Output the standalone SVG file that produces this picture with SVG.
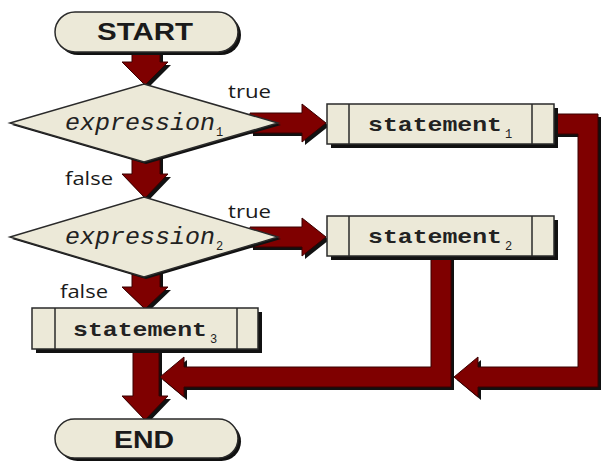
<svg xmlns="http://www.w3.org/2000/svg" width="601" height="463" viewBox="0 0 601 463">
  <defs>
    <style>
      .node { fill: #ece9d8; stroke: #2a2a2a; stroke-width: 1.5; }
      .shadow { fill: #111; stroke: none; }
      .bar { fill: #7f0000; stroke: #3a0000; stroke-width: 1; stroke-linejoin: miter; }
      .term { font-family: "Liberation Sans", Arial, sans-serif; font-weight: bold; font-size: 24px; fill: #1a1a1a; }
      .expr { font-family: "Liberation Mono", "Courier New", monospace; font-style: italic; font-size: 23px; fill: #222; }
      .stmt { font-family: "Liberation Mono", "Courier New", monospace; font-weight: bold; font-size: 21px; fill: #222; }
      .sub { font-family: "Liberation Mono", "Courier New", monospace; font-size: 12px; fill: #222; }
      .lbl { font-family: "Open Sans", "Liberation Sans", sans-serif; font-size: 19px; fill: #1a1a1a; }
      .div { stroke: #2a2a2a; stroke-width: 1.5; }
    </style>
  </defs>

  <rect width="601" height="463" fill="#ffffff"/>

  <!-- connectors: thick maroon block arrows with a dark drop shadow -->
  <g id="connectors">
    <g transform="translate(3,3)" class="shadow">
      <polygon points="132,50 160,50 160,62 168,62 145,85 122,62 132,62"/>
      <polygon points="250,113 302,113 302,104 326,123 302,142 302,133 250,133"/>
      <polygon points="132,150 160,150 160,174 168,174 145,198 122,174 132,174"/>
      <polygon points="250,227 302,227 302,218 326,237 302,256 302,247 250,247"/>
      <polygon points="132,265 160,265 160,287 168,287 145,309 122,287 132,287"/>
      <polygon points="133,345 159,345 159,396 168,396 145,420 122,396 133,396"/>
      <polygon points="550,114 598,114 598,387 478,387 478,397 454,377 478,357 478,367 578,367 578,134 550,134"/>
      <polygon points="431,252 451,252 451,387 184,387 184,397 160,377 184,357 184,367 431,367"/>
    </g>
    <!-- START -> expression1 -->
    <polygon class="bar" points="132,50 160,50 160,62 168,62 145,85 122,62 132,62"/>
    <!-- expression1 true -> statement1 -->
    <polygon class="bar" points="250,113 302,113 302,104 326,123 302,142 302,133 250,133"/>
    <!-- expression1 false -> expression2 -->
    <polygon class="bar" points="132,150 160,150 160,174 168,174 145,198 122,174 132,174"/>
    <!-- expression2 true -> statement2 -->
    <polygon class="bar" points="250,227 302,227 302,218 326,237 302,256 302,247 250,247"/>
    <!-- expression2 false -> statement3 -->
    <polygon class="bar" points="132,265 160,265 160,287 168,287 145,309 122,287 132,287"/>
    <!-- statement1 -> join -->
    <polygon class="bar" points="550,114 598,114 598,387 478,387 478,397 454,377 478,357 478,367 578,367 578,134 550,134"/>
    <!-- statement2 -> join -->
    <polygon class="bar" points="431,252 451,252 451,387 184,387 184,397 160,377 184,357 184,367 431,367"/>
    <!-- statement3 -> END -->
    <polygon class="bar" points="133,345 159,345 159,396 168,396 145,420 122,396 133,396"/>
  </g>

  <!-- branch labels -->
  <g id="labels">
    <text class="lbl" x="228" y="98" textLength="43" lengthAdjust="spacingAndGlyphs">true</text>
    <text class="lbl" x="65" y="185" textLength="48" lengthAdjust="spacingAndGlyphs">false</text>
    <text class="lbl" x="228" y="218" textLength="43" lengthAdjust="spacingAndGlyphs">true</text>
    <text class="lbl" x="60" y="298" textLength="48" lengthAdjust="spacingAndGlyphs">false</text>
  </g>

  <g id="start">
    <rect class="shadow" x="58" y="15" width="183" height="40" rx="20"/>
    <rect class="node" x="55" y="12" width="183" height="40" rx="20"/>
    <text class="term" x="97" y="40" textLength="96" lengthAdjust="spacingAndGlyphs">START</text>
  </g>

  <g id="expression1">
    <polygon class="shadow" points="146,86 281,125 146,164 12,125"/>
    <polygon class="node" points="144,84 278,123 144,162 10,123"/>
    <text class="expr" x="65" y="130" textLength="150" lengthAdjust="spacingAndGlyphs">expression</text>
    <text class="sub" x="216" y="136">1</text>
  </g>

  <g id="expression2">
    <polygon class="shadow" points="146,199 281,239 146,279 12,239"/>
    <polygon class="node" points="144,197 278,237 144,277 10,237"/>
    <text class="expr" x="65" y="244" textLength="150" lengthAdjust="spacingAndGlyphs">expression</text>
    <text class="sub" x="216" y="250">2</text>
  </g>

  <g id="statement1">
    <rect class="shadow" x="331" y="108" width="227" height="40"/>
    <rect class="node" x="327" y="104" width="227" height="40"/>
    <line class="div" x1="349" y1="104" x2="349" y2="144"/>
    <line class="div" x1="532" y1="104" x2="532" y2="144"/>
    <text class="stmt" x="368" y="131" textLength="134" lengthAdjust="spacingAndGlyphs">statement</text>
    <text class="sub" x="505" y="138">1</text>
  </g>

  <g id="statement2">
    <rect class="shadow" x="331" y="220" width="227" height="40"/>
    <rect class="node" x="327" y="216" width="227" height="40"/>
    <line class="div" x1="349" y1="216" x2="349" y2="256"/>
    <line class="div" x1="532" y1="216" x2="532" y2="256"/>
    <text class="stmt" x="368" y="243" textLength="134" lengthAdjust="spacingAndGlyphs">statement</text>
    <text class="sub" x="505" y="250">2</text>
  </g>

  <g id="statement3">
    <rect class="shadow" x="36" y="312" width="226" height="41"/>
    <rect class="node" x="32" y="308" width="226" height="41"/>
    <line class="div" x1="55" y1="308" x2="55" y2="349"/>
    <line class="div" x1="237" y1="308" x2="237" y2="349"/>
    <text class="stmt" x="73" y="336" textLength="134" lengthAdjust="spacingAndGlyphs">statement</text>
    <text class="sub" x="210" y="343">3</text>
  </g>

  <g id="end">
    <rect class="shadow" x="58" y="422" width="183" height="39" rx="19.5"/>
    <rect class="node" x="55" y="419" width="183" height="39" rx="19.5"/>
    <text class="term" x="114" y="448" textLength="60" lengthAdjust="spacingAndGlyphs">END</text>
  </g>
</svg>
